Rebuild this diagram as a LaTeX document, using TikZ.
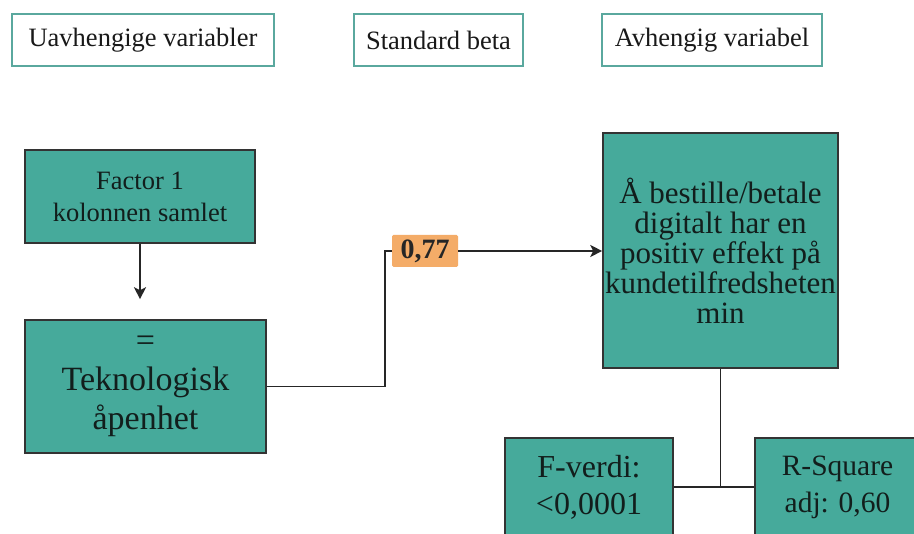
\documentclass[tikz,border=0pt]{standalone}
\usepackage{fontspec}
\setmainfont{Liberation Serif}
\usetikzlibrary{arrows.meta}
\definecolor{tealfill}{RGB}{70,170,155}
\definecolor{tealline}{RGB}{90,168,158}
\definecolor{orangefill}{RGB}{244,172,104}
\definecolor{boxtext}{RGB}{18,30,28}
\begin{document}
\begin{tikzpicture}[x=1pt,y=-1pt,
  headbox/.style={draw=tealline,line width=2.8pt,fill=white,inner sep=0pt,
    font=\fontsize{26.5}{30}\selectfont,text=black!90},
  tealbox/.style={draw=black!80,line width=1.6pt,fill=tealfill,inner sep=0pt,
    align=center,text=boxtext},
  betabox/.style={fill=orangefill,inner sep=0pt,rounded corners=1.5pt,
    font=\fontsize{28}{30}\selectfont\bfseries,text=black!85},
  link/.style={draw=black!85,line width=1.8pt},
  arrowlink/.style={link,-{Stealth[length=12pt,width=12pt,inset=3pt]}}]
\useasboundingbox (0,0) rectangle (914,534);
\fill[white] (0,0) rectangle (914,534);

% column headings
\node[headbox,minimum width=262pt,minimum height=52pt] (h1) at (143,40) {Uavhengige variabler};
\node[headbox,minimum width=169pt,minimum height=52pt] (h2) at (438.5,40) {Standard beta};
\node[headbox,minimum width=220pt,minimum height=52pt] (h3) at (712,40) {Avhengig variabel};

% independent variable
\node[tealbox,minimum width=230pt,minimum height=93pt,
  font=\fontsize{26.5}{32}\selectfont] (factor) at (140,196.5) {Factor 1\\kolonnen samlet};
\node[tealbox,minimum width=241pt,minimum height=133pt,
  font=\fontsize{34}{39}\selectfont] (tek) at (145.5,386.5) {=\\Teknologisk\\åpenhet};

% dependent variable
\node[tealbox,minimum width=235pt,minimum height=235pt,
  font=\fontsize{31}{30}\selectfont] (dep) at (720.5,250.5)
  {Å bestille/betale\\digitalt har en\\positiv effekt på\\kundetilfredsheten\\min};

% model statistics
\node[tealbox,minimum width=168pt,minimum height=98pt,
  font=\fontsize{32}{37}\selectfont] (fval) at (589,487) {F-verdi:\\<0,0001};
\node[tealbox,minimum width=165pt,minimum height=98pt,
  font=\fontsize{29.5}{37}\selectfont] (rsq) at (837.5,487) {R-Square\\adj: 0,60};

% standardised coefficient
\node[betabox,minimum width=66pt,minimum height=32pt] (beta) at (425,251) {0,77};

% connectors
\draw[arrowlink,shorten >=20pt] (factor.south) -- (factor.south |- tek.north);
\coordinate (bend) at (385,0);
\draw[link] (tek.east) -- (tek.east -| bend) -- (beta.west -| bend) -- (beta.west);
\draw[arrowlink] (beta.east) -- (beta.east -| dep.west);
\draw[link] (fval.east) -- (rsq.west);
\draw[link] (dep.south) -- (dep.south |- fval.east);
\end{tikzpicture}
\end{document}
